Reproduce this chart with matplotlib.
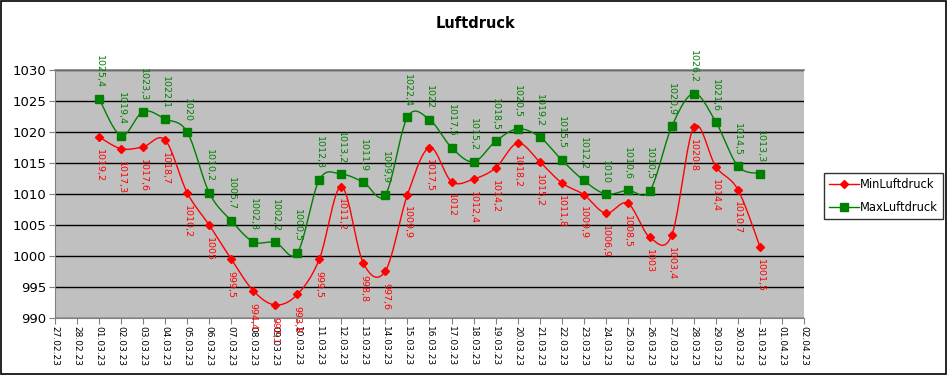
import numpy as np
import matplotlib
matplotlib.use("Agg")
import matplotlib.pyplot as plt
from matplotlib.patches import Rectangle

dates = ["27.02.23", "28.02.23"] + ["%02d.03.23" % d for d in range(1, 32)] + ["01.04.23", "02.04.23"]
data_dates = ["%02d.03.23" % d for d in range(1, 32)]
min_luftdruck = [1019.2, 1017.3, 1017.6, 1018.7, 1010.2, 1005.0, 999.5, 994.4, 992.1, 993.8,
                 999.5, 1011.2, 998.8, 997.6, 1009.9, 1017.5, 1012.0, 1012.4, 1014.2, 1018.2,
                 1015.2, 1011.8, 1009.9, 1006.9, 1008.5, 1003.0, 1003.4, 1020.8, 1014.4, 1010.7,
                 1001.5]
max_luftdruck = [1025.4, 1019.4, 1023.3, 1022.1, 1020.0, 1010.2, 1005.7, 1002.3, 1002.2, 1000.5,
                 1012.3, 1013.2, 1011.9, 1009.9, 1022.4, 1022.0, 1017.5, 1015.2, 1018.5, 1020.5,
                 1019.2, 1015.5, 1012.2, 1010.0, 1010.6, 1010.5, 1020.9, 1026.2, 1021.6, 1014.5,
                 1013.3]
y_ticks = [990, 995, 1000, 1005, 1010, 1015, 1020, 1025, 1030]


def smooth(x, y, n=20):
    # Bezier rendering of the line between the data points (like Excel "smoothed line")
    x = np.asarray(x, float); y = np.asarray(y, float)
    px = np.concatenate([[x[0]], x, [x[-1]]])
    py = np.concatenate([[y[0]], y, [y[-1]]])
    xs, ys = [], []
    t = np.linspace(0, 1, n, endpoint=False)
    for i in range(1, len(px) - 2):
        p0, p1, p2, p3 = [(px[j], py[j]) for j in (i - 1, i, i + 1, i + 2)]
        for k in range(2):
            a, b, c, d = p0[k], p1[k], p2[k], p3[k]
            c1 = b + (c - a) / 6.0
            c2 = c - (d - b) / 6.0
            v = (1 - t) ** 3 * b + 3 * (1 - t) ** 2 * t * c1 + 3 * (1 - t) * t ** 2 * c2 + t ** 3 * c
            (xs if k == 0 else ys).append(v)
    xs = np.concatenate(xs + [[x[-1]]])
    ys = np.concatenate(ys + [[y[-1]]])
    return xs, ys


def fmt(v):
    s = ("%.1f" % v)
    if s.endswith(".0"):
        s = s[:-2]
    return s.replace(".", ",")


fig = plt.figure(figsize=(9.48, 3.75), dpi=100)
fig.patches.append(Rectangle((0.001, 0.002), 0.997, 0.995, transform=fig.transFigure,
                             fill=False, edgecolor="black", linewidth=1.2))
ax = fig.add_axes([55 / 948, 1 - 318 / 375, (804 - 55) / 948, (318 - 70) / 375])
ax.set_facecolor("#c0c0c0")

xidx = [dates.index(d) for d in data_dates]
red = "#ff0000"
green = "#008000"

sx, sy = smooth(xidx, min_luftdruck)
ax.plot(sx, sy, color=red, lw=1, zorder=3)
ax.plot(xidx, min_luftdruck, ls="none", marker="D", ms=4.5, color=red, zorder=4)
sx, sy = smooth(xidx, max_luftdruck)
ax.plot(sx, sy, color=green, lw=1, zorder=3)
ax.plot(xidx, max_luftdruck, ls="none", marker="s", ms=6, color=green, zorder=4)

for x, v in zip(xidx, min_luftdruck):
    ax.annotate(fmt(v), (x, v), xytext=(0, -8.5), textcoords="offset points", rotation=-90,
                ha="center", va="top", fontsize=6.8, color=red, annotation_clip=False, zorder=5)
for x, v in zip(xidx, max_luftdruck):
    ax.annotate(fmt(v), (x, v), xytext=(0, 7.5), textcoords="offset points", rotation=-90,
                ha="center", va="bottom", fontsize=6.8, color=green, annotation_clip=False, zorder=5)

ax.set_xlim(0, len(dates) - 1)
ax.set_ylim(990, 1030)
ax.set_yticks(y_ticks)
ax.set_yticklabels([str(v) for v in y_ticks], fontsize=9.5)
ax.set_xticks(range(len(dates)))
ax.set_xticklabels(dates, rotation=-90, fontsize=6.5)
ax.yaxis.grid(True, color="black", lw=1)
ax.set_axisbelow(True)
ax.tick_params(axis="both", direction="out", length=4, width=0.8, color="#808080", pad=2)
ax.tick_params(axis="x", pad=1.5)
for side in ("left", "bottom", "top"):
    ax.spines[side].set_color("#808080")
ax.spines["right"].set_visible(False)
ax.spines["top"].set_linewidth(1.2)

fig.text(475 / 948, 1 - 23 / 375, "Luftdruck", ha="center", va="center", fontsize=10.5, fontweight="bold")

h1, = ax.plot([], [], color=red, marker="D", ms=4.5, lw=1)
h2, = ax.plot([], [], color=green, marker="s", ms=6, lw=1)
leg = fig.legend([h1, h2], ["MinLuftdruck", "MaxLuftdruck"], loc="upper left",
                 bbox_to_anchor=(824 / 948, 1 - 173 / 375), fontsize=8.3, frameon=True,
                 fancybox=False, shadow=False, borderpad=0.45, labelspacing=0.85,
                 handlelength=2.6, handletextpad=0.1, borderaxespad=0)
leg.get_frame().set_edgecolor("black")
leg.get_frame().set_linewidth(1)

fig.savefig("out.png", dpi=100)
